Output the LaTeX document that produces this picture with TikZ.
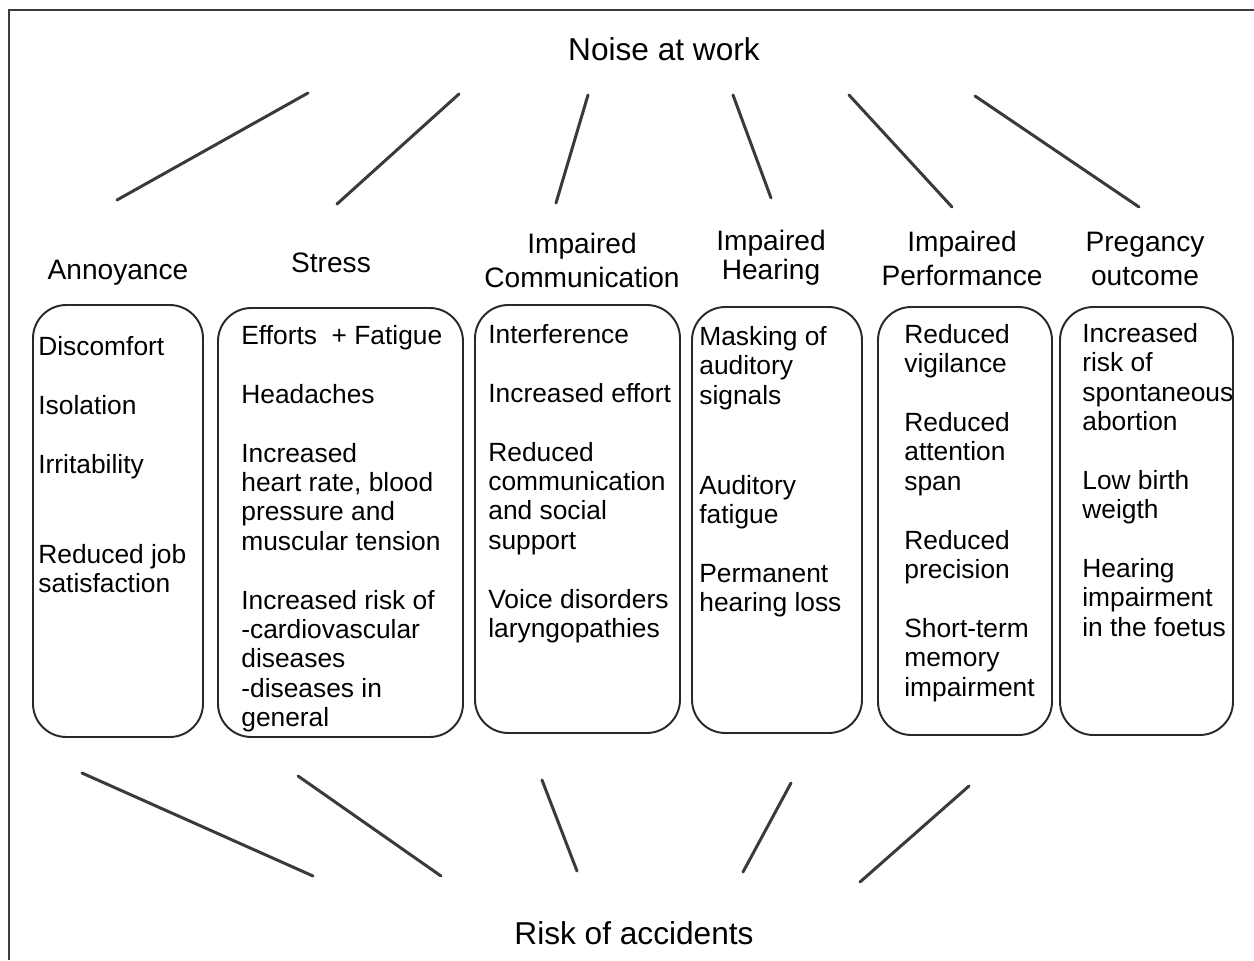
\documentclass[tikz,border=0pt]{standalone}
\usepackage{fontspec}
\setmainfont{Liberation Sans}
\definecolor{cLine} {RGB}{ 58, 58, 58}
\definecolor{cFrame}{RGB}{ 60, 60, 60}
\definecolor{cBox}  {RGB}{ 40, 40, 40}

\begin{document}
\begin{tikzpicture}[
  x=0.02cm, y=-0.02cm,
  %% heavy grey spoke between the outer labels and the headings
  spoke/.style={cLine, line width=1.7pt, line cap=round},
  %% rounded column frame, size given in pixels
  panel/.style 2 args={
    draw=cBox, line width=1.1pt, rounded corners=19pt, inner sep=0pt,
    minimum width=#1*0.02cm, minimum height=#2*0.02cm
  },
  title/.style={font=\fontsize{18}{22}\selectfont, inner sep=0pt},
  head/.style={font=\fontsize{16}{19.4}\selectfont, align=center, inner sep=0pt},
  items/.style={
    font=\fontsize{15}{16.7}\selectfont, align=left,
    anchor=north west, inner sep=0pt
  },
]

%% ── Geometry ─────────────────────────────────────────────────────────────────
\def\ig{16.8pt}    % gap between two items
\def\igg{34.5pt}   % double gap

\useasboundingbox (0,0) rectangle (1254,960);

%% ── Frame (only top and left edges show) ─────────────────────────────────────
\draw[cFrame, line width=1.7pt] (9,960) -- (9,10) -- (1254,10);

%% ── Outer labels ─────────────────────────────────────────────────────────────
\node[title] (noise) at (664,49)  {Noise at work};
\node[title] (risk)  at (634,933) {Risk of accidents};

%% ── Column headings ──────────────────────────────────────────────────────────
\node[head] (hAnn) at (118,273)  {Annoyance};
\node[head] (hStr) at (331,263)  {Stress};
\node[head] (hCom) at (582,260)  {Impaired\\Communication};
\node[head] (hHea) at (771,258)  {Impaired\\[-3pt]Hearing};
\node[head] (hPer) at (962,258)  {Impaired\\Performance};
\node[head] (hPre) at (1145,259) {Pregancy\\outcome};

%% ── Column frames ────────────────────────────────────────────────────────────
\node[panel={170}{432}] (bAnn) at (118,521)   {};
\node[panel={245}{429}] (bStr) at (340.5,522.5) {};
\node[panel={205}{428}] (bCom) at (577.5,519) {};
\node[panel={170}{426}] (bHea) at (777,520)   {};
\node[panel={174}{428}] (bPer) at (965,521)   {};
\node[panel={173}{428}] (bPre) at (1146.5,521) {};

%% ── Column contents ──────────────────────────────────────────────────────────
\node[items] (tAnn) at (38,336) {
  Discomfort\\[\ig]
  Isolation\\[\ig]
  Irritability\\[\igg]
  Reduced job\\
  satisfaction
};

\node[items] (tStr) at (241,325) {
  Efforts\ \ + Fatigue\\[\ig]
  Headaches\\[\ig]
  Increased\\
  heart rate, blood\\
  pressure and\\
  muscular tension\\[\ig]
  Increased risk of\\
  -cardiovascular\\
  diseases\\
  -diseases in\\
  general
};

\node[items] (tCom) at (488,324) {
  Interference\\[\ig]
  Increased effort\\[\ig]
  Reduced\\
  communication\\
  and social\\
  support\\[\ig]
  Voice disorders\\
  laryngopathies
};

\node[items] (tHea) at (699,326) {
  Masking of\\
  auditory\\
  signals\\[\igg]
  Auditory\\
  fatigue\\[\ig]
  Permanent\\
  hearing loss
};

\node[items] (tPer) at (904,324) {
  Reduced\\
  vigilance\\[\ig]
  Reduced\\
  attention\\
  span\\[\ig]
  Reduced\\
  precision\\[\ig]
  Short-term\\
  memory\\
  impairment
};

\node[items] (tPre) at (1082,323) {
  Increased\\
  risk of\\
  spontaneous\\
  abortion\\[\ig]
  Low birth\\
  weigth\\[\ig]
  Hearing\\
  impairment\\
  in the foetus
};

%% ── Spokes from "Noise at work" ──────────────────────────────────────────────
\coordinate (nAnn) at (308,93);   \coordinate (sAnn) at (117,200);
\coordinate (nStr) at (459,94);   \coordinate (sStr) at (337,204);
\coordinate (nCom) at (588,95);   \coordinate (sCom) at (556,203);
\coordinate (nHea) at (733,95);   \coordinate (sHea) at (771,198);
\coordinate (nPer) at (849,95);   \coordinate (sPer) at (952,207);
\coordinate (nPre) at (975,96);   \coordinate (sPre) at (1139,207);

\draw[spoke] (nAnn) -- (sAnn);
\draw[spoke] (nStr) -- (sStr);
\draw[spoke] (nCom) -- (sCom);
\draw[spoke] (nHea) -- (sHea);
\draw[spoke] (nPer) -- (sPer);
\draw[spoke] (nPre) -- (sPre);

%% ── Spokes into "Risk of accidents" ──────────────────────────────────────────
\coordinate (uAnn) at (82,773);   \coordinate (rAnn) at (313,876);
\coordinate (uStr) at (298,776);  \coordinate (rStr) at (441,876);
\coordinate (uCom) at (542,780);  \coordinate (rCom) at (577,871);
\coordinate (uHea) at (791,783);  \coordinate (rHea) at (743,872);
\coordinate (uPer) at (969,786);  \coordinate (rPer) at (860,882);

\draw[spoke] (uAnn) -- (rAnn);
\draw[spoke] (uStr) -- (rStr);
\draw[spoke] (uCom) -- (rCom);
\draw[spoke] (uHea) -- (rHea);
\draw[spoke] (uPer) -- (rPer);

\end{tikzpicture}
\end{document}
